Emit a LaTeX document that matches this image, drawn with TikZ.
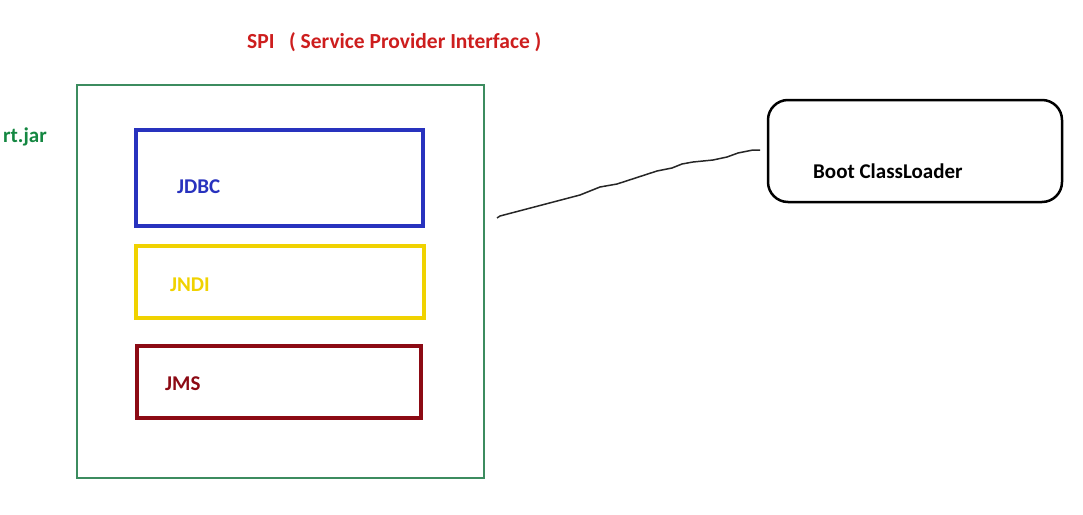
\documentclass[tikz,border=0pt]{standalone}
\usepackage{fontspec}
\setmainfont{Carlito}
\usetikzlibrary{calc}

\definecolor{spired}{RGB}{205,30,30}
\definecolor{jargreen}{RGB}{20,135,65}
\definecolor{boxgreen}{RGB}{60,140,95}
\definecolor{jdbcblue}{RGB}{40,50,190}
\definecolor{jndiyellow}{RGB}{240,210,0}
\definecolor{jmsred}{RGB}{140,10,20}

\tikzset{
  box/.style={draw,line width=4pt,inner sep=0pt},
  lbl/.style={anchor=base west,inner sep=0pt,font=\bfseries\fontsize{21}{24}\selectfont}
}

\begin{document}
\begin{tikzpicture}[x=1pt,y=-1pt]
        \useasboundingbox (0,0) rectangle (1083,514);
        \node[lbl,text=spired,font=\bfseries\fontsize{21.5}{24}\selectfont] (spi) at (247,48) {SPI\ \ \ ( Service Provider Interface )};
        \node[lbl,text=jargreen] (rtjar) at (3,142) {rt.jar};
        \draw[boxgreen,line width=1.2pt] (77,85) rectangle (484,478);
        \draw[box,jdbcblue] (136,130) rectangle (423,226);
        \node[lbl,text=jdbcblue] (jdbc) at (177,193) {JDBC};
        \draw[box,jndiyellow] (136,246) rectangle (424,318);
        \node[lbl,text=jndiyellow] (jndi) at (170,291) {JNDI};
        \draw[box,jmsred] (137,346) rectangle (421,418);
        \node[lbl,text=jmsred] (jms) at (165,390) {JMS};
        \draw[line width=2.5pt,rounded corners=20pt] (768,100) rectangle (1062,202);
        \node[lbl] (boot) at (813,178) {Boot ClassLoader};
        % hand drawn stroke
        \coordinate (lineS) at (497,218);
        \coordinate (lineE) at (760,150);
        \draw[line width=1.5pt,black!85] (lineS)--(500,216)--(580,195)--(600,187)--(617,184)--(657,171)--(672,168)--(682,164)--(693,162)--(713,160)--(727,157)--(738,153)--(753,150)--(lineE);
\end{tikzpicture}
\end{document}
